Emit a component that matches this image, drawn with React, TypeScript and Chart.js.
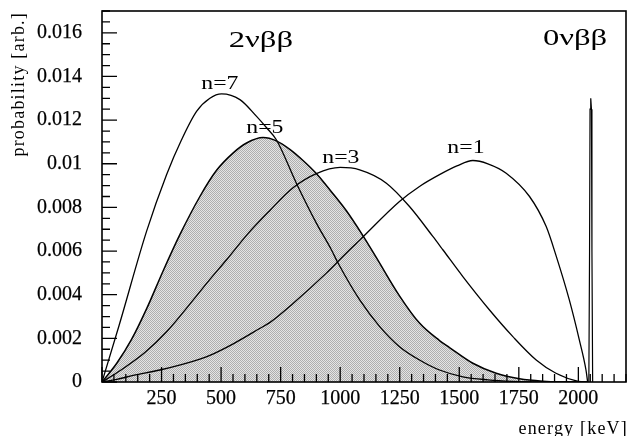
import React, { useEffect, useRef } from 'react';
import { Chart, registerables } from 'chart.js';

Chart.register(...registerables);

// Summed-electron energy spectra of double beta decay, spectral index n
const n7Energy = [0, 72, 187, 271, 334, 397, 453, 502, 579, 649, 691, 732, 816, 900, 963, 991, 1082, 1166, 1249, 1333, 1417, 1515, 1620, 1723, 1850, 2039];
const n7Prob = [0, 0.0026, 0.0069, 0.0095, 0.0111, 0.0124, 0.013, 0.0132, 0.01294, 0.01217, 0.01165, 0.0111, 0.00911, 0.00728, 0.00606, 0.00545, 0.00376, 0.00254, 0.00162, 0.00101, 0.00055, 0.00024, 0.0001, 0.00003, 0, 0];

const n5Energy = [0, 62, 124, 187, 257, 327, 411, 481, 551, 607, 676, 732, 790, 844, 900, 942, 1026, 1096, 1152, 1249, 1333, 1417, 1459, 1557, 1655, 1753, 1850, 1950, 2039];
const n5Prob = [0, 0.00086, 0.00195, 0.00335, 0.0051, 0.00675, 0.0085, 0.0097, 0.0105, 0.01095, 0.0112, 0.01105, 0.01065, 0.01015, 0.00955, 0.009, 0.00785, 0.0067, 0.0057, 0.00395, 0.0027, 0.0019, 0.00158, 0.00086, 0.0004, 0.00015, 0.00004, 0, 0];

const n3Energy = [0, 80, 180, 271, 397, 453, 523, 613, 704, 802, 900, 1000, 1082, 1194, 1291, 1389, 1431, 1515, 1627, 1725, 1823, 1906, 2000, 2039];
const n3Prob = [0, 0.00055, 0.00135, 0.0023, 0.00395, 0.0047, 0.0056, 0.0068, 0.00785, 0.0089, 0.00955, 0.00983, 0.00972, 0.00911, 0.00804, 0.00667, 0.00606, 0.00483, 0.0033, 0.00208, 0.00101, 0.0004, 0.00003, 0];

const n1Energy = [0, 62, 131, 243, 341, 411, 453, 551, 662, 704, 802, 942, 998, 1040, 1082, 1249, 1333, 1417, 1490, 1557, 1620, 1697, 1795, 1865, 1906, 1962, 2004, 2032, 2039];
const n1Prob = [0, 0.00012, 0.0003, 0.00055, 0.00082, 0.00105, 0.00122, 0.00175, 0.00245, 0.00272, 0.0036, 0.00499, 0.0056, 0.00606, 0.0065, 0.00827, 0.00896, 0.0095, 0.0099, 0.01015, 0.01, 0.00957, 0.0085, 0.00712, 0.0058, 0.00376, 0.00193, 0.00055, 0];

// Neutrinoless line at the Q-value
const peakEnergy = [2044, 2047, 2049, 2052, 2055, 2057, 2060];
const peakProb = [0, 0.006, 0.0125, 0.013, 0.0125, 0.006, 0];

// Curve labels
const curveLabels = ['n=7', 'n=5', 'n=3', 'n=1'];
const curveLabelEnergy = [495, 684, 1003, 1528];
const curveLabelProb = [0.01343, 0.01141, 0.01004, 0.0105];

// Decay mode labels
const modeLabels = ['2νββ', '0νββ'];
const modeLabelEnergy = [667, 1986];
const modeLabelProb = [0.01535, 0.01544];

// Axes
const X_MIN = 0;
const X_MAX = 2200;
const X_MAJOR = 250;
const X_MINOR = 50;
const Y_MIN = 0;
const Y_MAX = 0.017;
const Y_MAJOR = 0.002;
const Y_MINOR = 0.0005;
const xTickValues = [250, 500, 750, 1000, 1250, 1500, 1750, 2000];
const yTickValues = [0, 0.002, 0.004, 0.006, 0.008, 0.01, 0.012, 0.014, 0.016];
const yTickLabels = ['0', '0.002', '0.004', '0.006', '0.008', '0.01', '0.012', '0.014', '0.016'];
const X_TITLE = 'energy [keV]';
const Y_TITLE = 'probability [arb.]';

const FONT = '"Liberation Serif", "Times New Roman", serif';

function toPoints(e: number[], p: number[]) {
  return e.map((x, i) => ({ x, y: p[i] }));
}

function makeDither(): CanvasPattern | string {
  const c = document.createElement('canvas');
  c.width = 2;
  c.height = 2;
  const g = c.getContext('2d');
  if (!g) return '#c8c8c8';
  g.fillStyle = '#e4e4e4';
  g.fillRect(0, 0, 2, 2);
  g.fillStyle = '#aeaeae';
  g.fillRect(0, 0, 1, 1);
  g.fillRect(1, 1, 1, 1);
  return g.createPattern(c, 'repeat') || '#c8c8c8';
}

function stretchedText(ctx: any, text: string, x: number, y: number, sx: number) {
  ctx.save();
  ctx.translate(x, y);
  ctx.scale(sx, 1);
  ctx.fillText(text, 0, 0);
  ctx.restore();
}

const decorations = {
  id: 'decorations',
  afterDraw(chart: any) {
    const { ctx, chartArea: a, scales } = chart;
    const xs = scales.x;
    const ys = scales.y;
    ctx.save();
    ctx.strokeStyle = '#000';
    ctx.fillStyle = '#000';

    // inward ticks on the bottom axis
    ctx.lineWidth = 1.3;
    ctx.beginPath();
    const nx = Math.round((X_MAX - X_MIN) / X_MINOR);
    for (let k = 0; k <= nx; k++) {
      const v = X_MIN + k * X_MINOR;
      const px = xs.getPixelForValue(v);
      const len = (v % X_MAJOR) === 0 ? 15 : 8;
      ctx.moveTo(px, a.bottom);
      ctx.lineTo(px, a.bottom - len);
    }
    // inward ticks on the left axis
    const ny = Math.round((Y_MAX - Y_MIN) / Y_MINOR);
    const perMajor = Math.round(Y_MAJOR / Y_MINOR);
    for (let k = 0; k <= ny; k++) {
      const py = ys.getPixelForValue(Y_MIN + k * Y_MINOR);
      const len = k % perMajor === 0 ? 15 : 8;
      ctx.moveTo(a.left, py);
      ctx.lineTo(a.left + len, py);
    }
    ctx.stroke();

    // frame
    ctx.lineWidth = 1.6;
    ctx.strokeRect(a.left, a.top, a.right - a.left, a.bottom - a.top);

    // curve labels
    ctx.textAlign = 'center';
    ctx.textBaseline = 'alphabetic';
    ctx.font = `19px ${FONT}`;
    curveLabels.forEach((t, i) => {
      stretchedText(ctx, t, xs.getPixelForValue(curveLabelEnergy[i]), ys.getPixelForValue(curveLabelProb[i]), 1.25);
    });

    // decay mode labels
    ctx.font = `24px ${FONT}`;
    modeLabels.forEach((t, i) => {
      stretchedText(ctx, t, xs.getPixelForValue(modeLabelEnergy[i]), ys.getPixelForValue(modeLabelProb[i]), 1.36);
    });

    // axis titles
    ctx.font = `18px ${FONT}`;
    ctx.letterSpacing = '1.2px';
    ctx.textAlign = 'right';
    ctx.fillText(X_TITLE, a.right + 2, chart.height - 2);

    ctx.translate(24, a.top + 1);
    ctx.rotate(-Math.PI / 2);
    ctx.fillText(Y_TITLE, 0, 0);
    ctx.restore();
  },
};

export default function App() {
  const ref = useRef<HTMLCanvasElement | null>(null);

  useEffect(() => {
    const canvas = ref.current;
    if (!canvas) return;
    const line = {
      borderColor: '#000',
      borderWidth: 1.3,
      pointRadius: 0,
      fill: false,
      cubicInterpolationMode: 'monotone' as const,
    };
    const tickFont = { family: FONT, size: 20 };
    const chart = new Chart(canvas, {
      type: 'line',
      data: {
        datasets: [
          { ...line, label: 'n=7', data: toPoints(n7Energy, n7Prob) },
          { ...line, label: 'n=3', data: toPoints(n3Energy, n3Prob) },
          { ...line, label: 'n=1', data: toPoints(n1Energy, n1Prob) },
          { ...line, label: '0νββ', data: toPoints(peakEnergy, peakProb), cubicInterpolationMode: 'default' as const, tension: 0, borderWidth: 1.2 },
          { ...line, label: 'n=5', data: toPoints(n5Energy, n5Prob), borderWidth: 1.5, fill: 'origin', backgroundColor: makeDither() },
        ],
      },
      options: {
        animation: false,
        responsive: false,
        maintainAspectRatio: false,
        layout: { padding: { top: 11, right: 2, left: 0, bottom: 0 } },
        plugins: {
          legend: { display: false },
          tooltip: { enabled: false },
          filler: { drawTime: 'beforeDatasetsDraw' },
        } as any,
        elements: { point: { radius: 0 } },
        scales: {
          x: {
            type: 'linear',
            min: X_MIN,
            max: X_MAX,
            afterBuildTicks: (s: any) => { s.ticks = xTickValues.map((value) => ({ value })); },
            afterFit: (s: any) => { s.height = 54; s.paddingLeft = 0; s.paddingRight = 0; },
            grid: { display: false, drawTicks: false },
            border: { display: false },
            ticks: {
              autoSkip: false,
              maxRotation: 0,
              minRotation: 0,
              padding: 5,
              color: '#000',
              textStrokeColor: '#000',
              textStrokeWidth: 0.25,
              font: tickFont,
              callback: (v: any) => String(v),
            },
          },
          y: {
            type: 'linear',
            min: Y_MIN,
            max: Y_MAX,
            afterBuildTicks: (s: any) => { s.ticks = yTickValues.map((value) => ({ value })); },
            afterFit: (s: any) => { s.width = 102; s.paddingTop = 0; s.paddingBottom = 0; },
            grid: { display: false, drawTicks: false },
            border: { display: false },
            ticks: {
              autoSkip: false,
              padding: 20,
              color: '#000',
              textStrokeColor: '#000',
              textStrokeWidth: 0.25,
              font: tickFont,
              callback: (_v: any, i: number) => yTickLabels[i],
            },
          },
        },
      },
      plugins: [decorations],
    });
    return () => chart.destroy();
  }, []);

  return (
    <div style={{ position: 'absolute', left: 0, top: 0, width: 628, height: 436, background: '#fff' }}>
      <canvas ref={ref} width={628} height={436} style={{ display: 'block' }} />
    </div>
  );
}
